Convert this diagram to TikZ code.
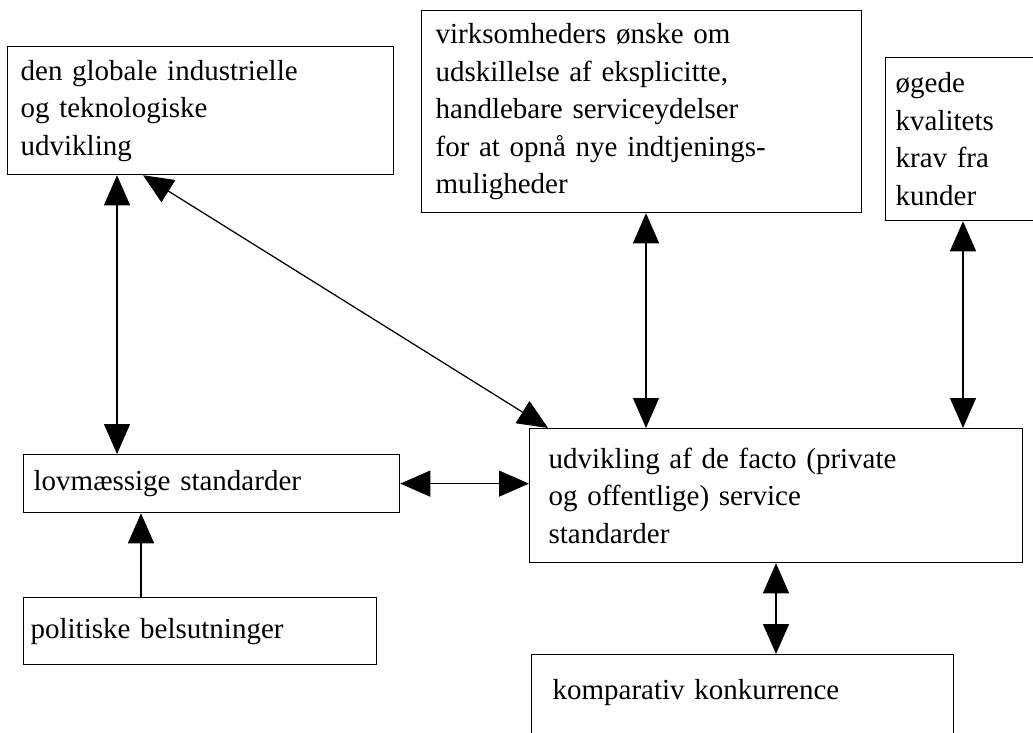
\documentclass[tikz,border=0pt]{standalone}
\usepackage{fontspec}
\setmainfont{Liberation Serif}
\usetikzlibrary{arrows.meta}
\tikzset{
  txtbox/.style={draw,line width=0.5pt,anchor=north west,align=left,font=\fontsize{11.6}{15}\selectfont},
  twoway/.style={{Triangle[length=12pt,width=10.4pt]}-{Triangle[length=12pt,width=10.4pt]},line width=0.5pt},
  oneway/.style={-{Triangle[length=12pt,width=10.4pt]},line width=0.5pt},
}
\begin{document}
\begin{tikzpicture}[x=0.4pt,y=-0.4pt]
  \useasboundingbox (0,0) rectangle (1033,733);
  % top row
  \node[txtbox,inner xsep=5.2pt,text width=144pt,minimum height=51.2pt] (glob) at (7,46)
    {den globale industrielle\\og teknologiske\\udvikling};
  \node[txtbox,inner xsep=5.6pt,text width=164.8pt,minimum height=80.8pt] (virk) at (421,10)
    {virksomheders ønske om\\udskillelse af eksplicitte,\\handlebare serviceydelser\\for at opnå nye indtjenings-\\muligheder};
  \node[txtbox,inner xsep=4pt,text width=54pt,minimum height=65.2pt] (krav) at (885,57)
    {øgede\\kvalitets\\krav fra\\kunder};
  % middle row
  \node[txtbox,inner xsep=4pt,text width=142.4pt,minimum height=23.2pt] (lov) at (23,454)
    {lovmæssige standarder};
  \node[txtbox,inner xsep=7.6pt,text width=182pt,minimum height=53.6pt] (udv) at (529,428)
    {udvikling af de facto (private\\og offentlige) service\\standarder};
  % bottom row
  \node[txtbox,inner xsep=2.8pt,text width=135.6pt,minimum height=26.8pt] (pol) at (23,597)
    {politiske belsutninger};
  \node[txtbox,inner xsep=8.4pt,inner ysep=0pt,text width=152pt,text height=18pt,text depth=20pt] (komp) at (531,654)
    {komparativ konkurrence};
  % connectors
  \draw[twoway] (glob.south -| 117,0) -- (lov.north -| 117,0);
  \draw[twoway] (glob.south -| 143,0) -- (udv.north -| 548,0);
  \draw[twoway] (lov.east) -- (lov.east -| udv.west);
  \draw[twoway] (virk.south -| 646,0) -- (udv.north -| 646,0);
  \draw[twoway] (krav.south -| 963,0) -- (udv.north -| 963,0);
  \draw[twoway] (udv.south -| 776,0) -- (komp.north -| 776,0);
  \draw[oneway] (pol.north -| 141,0) -- (lov.south -| 141,0);
\end{tikzpicture}
\end{document}
